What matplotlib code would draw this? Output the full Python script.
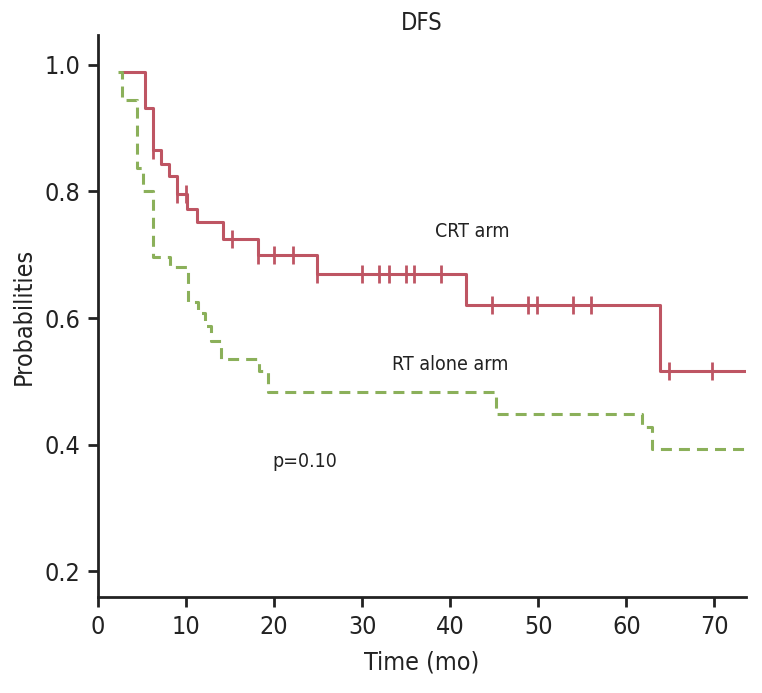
import numpy as np
import matplotlib
matplotlib.use("Agg")
import matplotlib.pyplot as plt

plt.rcParams['font.family'] = ['DejaVu Sans']
plt.rcParams['font.stretch'] = 'condensed'

# CRT arm (Kaplan-Meier steps)
crt_times = [2.8, 5.3, 6.2, 7.1, 8.1, 9.0, 10.15, 11.2, 14.2, 18.2, 24.9, 41.8, 63.8]
crt_surv = [0.988, 0.931, 0.865, 0.844, 0.824, 0.796, 0.772, 0.751, 0.725, 0.699, 0.670, 0.620, 0.517]
crt_censor = [6.2, 9.0, 10.0, 15.2, 18.2, 20.0, 22.1, 24.9, 30.0, 31.9, 33.0, 35.0, 35.9, 39.0,
              44.8, 48.8, 49.9, 53.9, 56.0, 64.8, 69.7]

# RT alone arm
rt_times = [2.3, 2.77, 4.39, 5.15, 6.29, 8.2, 10.2, 11.4, 12.2, 12.8, 14.0, 18.3, 19.35, 45.2, 61.8, 62.9]
rt_surv = [0.988, 0.944, 0.837, 0.80, 0.697, 0.681, 0.626, 0.608, 0.588, 0.563, 0.535, 0.517, 0.484,
           0.449, 0.428, 0.393]

end_time = 73.6
x_ticks = [0, 10, 20, 30, 40, 50, 60, 70]
y_ticks = [0.2, 0.4, 0.6, 0.8, 1.0]

red = '#BE5563'
green = '#8BB05A'
dark = '#222222'

fig = plt.figure(figsize=(7.62, 6.93), dpi=100)
ax = fig.add_axes([0.1286, 0.1385, 0.979 - 0.1286, 0.9495 - 0.1385])

ax.step(crt_times + [end_time], crt_surv + [crt_surv[-1]], where='post', color=red, lw=2.2, zorder=2)
idx = np.searchsorted(crt_times, crt_censor, side='right') - 1
cy = np.array(crt_surv)[idx]
ax.plot(crt_censor, cy, linestyle='none', marker='|', markersize=13, mew=2.0, color=red, zorder=2)

ax.step(rt_times + [end_time], rt_surv + [rt_surv[-1]], where='post', color=green, lw=2.2,
        dashes=(3.6, 2.3), zorder=3)

ax.set_xlim(0, end_time)
ax.set_ylim(0.1595, 1.047)
ax.set_xticks(x_ticks)
ax.set_yticks(y_ticks)
ax.set_yticklabels([f'{v:.1f}' for v in y_ticks])

for s in ['top', 'right']:
    ax.spines[s].set_visible(False)
for s in ['left', 'bottom']:
    ax.spines[s].set_linewidth(2.0)
    ax.spines[s].set_color(dark)
ax.tick_params(direction='out', length=7, width=2.0, color=dark, labelsize=18, labelcolor=dark, pad=6)

ax.set_xlabel('Time (mo)', fontsize=18, color=dark, labelpad=8)
ax.set_ylabel('Probabilities', fontsize=18, color=dark, labelpad=6)
ax.set_title('DFS', fontsize=17, color=dark, pad=3)

ax.text(42.5, 0.736, 'CRT arm', fontsize=14, color=dark, ha='center', va='center')
ax.text(40.0, 0.526, 'RT alone arm', fontsize=14, color=dark, ha='center', va='center')
ax.text(23.5, 0.373, 'p=0.10', fontsize=14, color=dark, ha='center', va='center')

fig.savefig('out.png', dpi=100)
